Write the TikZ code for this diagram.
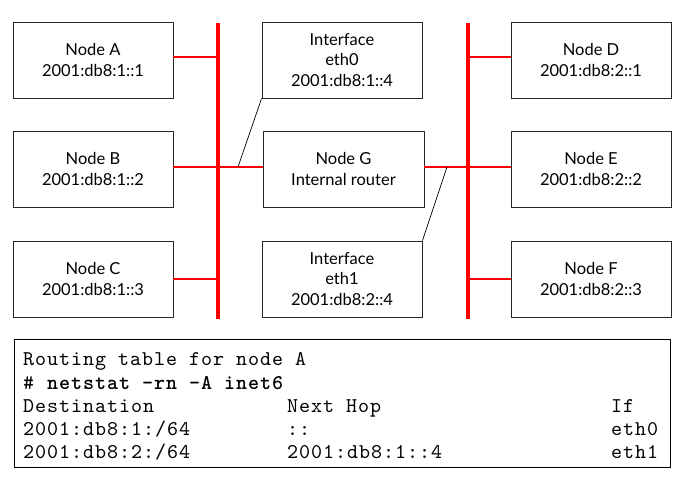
\documentclass[tikz,border=0pt]{standalone}
\usepackage{fontspec}
\setmainfont{Lato}
\newfontfamily\tablefont{lmmono10-regular.otf}[BoldFont=lmmonolt10-bold.otf,LetterSpace=4.6]
\begin{document}
\begin{tikzpicture}[x=1pt,y=-1pt,
  box/.style={draw=black!85,line width=0.9pt,minimum width=160pt,minimum height=76pt,
    inner sep=0pt,align=center,font=\fontsize{16.5}{20.5}\selectfont},
  bus/.style={draw=red,line width=4pt},
  stub/.style={draw=red,line width=2pt},
  pointer/.style={draw=black,line width=0.7pt},
  tline/.style={anchor=base west,inner sep=0pt,font=\tablefont\fontsize{21}{24}\selectfont}]
\useasboundingbox (0,0) rectangle (684,479);
% boxes
\node[box] (A) at (93,60) {Node A\\2001:db8:1::1};
\node[box] (B) at (93,169) {Node B\\2001:db8:1::2};
\node[box] (C) at (93,279) {Node C\\2001:db8:1::3};
\node[box] (eth0) at (342,60) {Interface\\eth0\\2001:db8:1::4};
\node[box,minimum width=161pt] (G) at (343.5,169) {Node G\\Internal router};
\node[box] (eth1) at (342,279) {Interface\\eth1\\2001:db8:2::4};
\node[box] (D) at (591,60) {Node D\\2001:db8:2::1};
\node[box] (E) at (591,169) {Node E\\2001:db8:2::2};
\node[box] (F) at (591,279) {Node F\\2001:db8:2::3};
% buses
\coordinate (L1) at (218,23);
\coordinate (L2) at (218,319);
\coordinate (R1) at (468,23);
\coordinate (R2) at (468,319);
% stubs
\draw[stub] ([yshift=3pt]A.east) -- ([yshift=3pt]A.east -| L1);
\draw[stub] ([yshift=2pt]B.east) -- ([yshift=2pt]B.east -| G.west);
\draw[stub] (C.east) -- (C.east -| L1);
\draw[stub] ([yshift=3pt]D.west) -- ([yshift=3pt]D.west -| R1);
\draw[stub] ([yshift=2pt]G.east) -- ([yshift=2pt]G.east -| E.west);
\draw[stub] (F.west) -- (F.west -| R1);
\draw[bus] (L1) -- (L2);
\draw[bus] (R1) -- (R2);
% pointers
\coordinate (p0) at (238,167);
\coordinate (p1) at (447,167);
\draw[pointer] (eth0.south west) -- (p0);
\draw[pointer] (eth1.north east) -- (p1);
% table
\node[draw=black,line width=0.9pt,minimum width=656pt,minimum height=128pt,inner sep=0pt] (T) at (342,403) {};
\node[tline] (t1) at (23,365) {Routing table for node A};
\node[tline] (t2) at (23,389) {\# \textbf{netstat -rn -A inet6}};
\node[tline] (t3) at (23,412) {Destination};
\node[tline] (t3b) at (287,412) {Next Hop};
\node[tline] (t3c) at (611,412) {If};
\node[tline] (t4) at (23,435) {2001:db8:1:/64};
\node[tline] (t4b) at (287,435) {::};
\node[tline] (t4c) at (611,435) {eth0};
\node[tline] (t5) at (23,458) {2001:db8:2:/64};
\node[tline] (t5b) at (287,458) {2001:db8:1::4};
\node[tline] (t5c) at (611,458) {eth1};
\end{tikzpicture}
\end{document}
